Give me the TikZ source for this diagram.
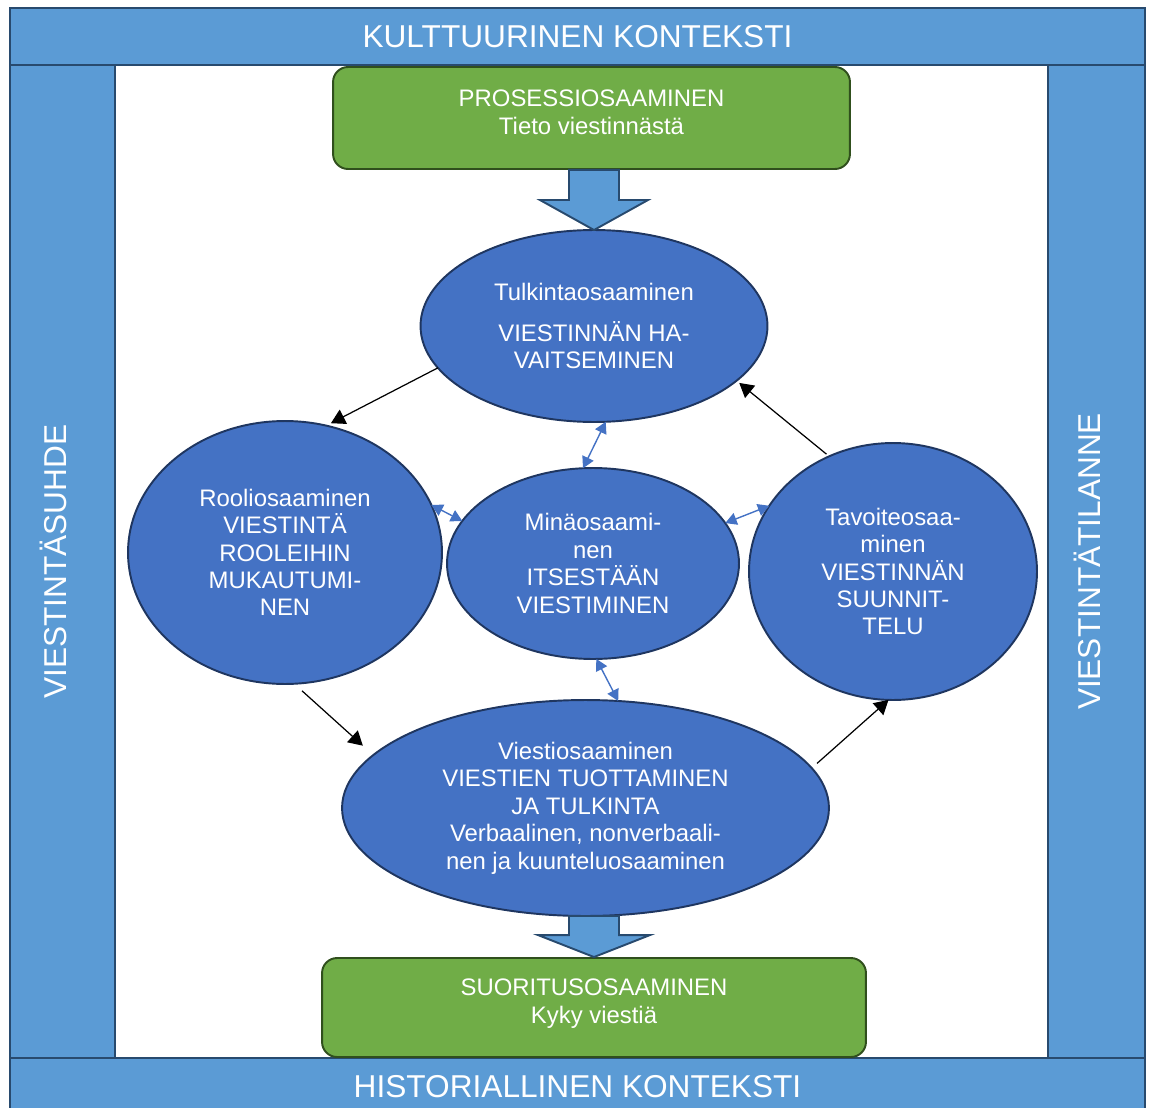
\documentclass[tikz,border=0pt]{standalone}
\usepackage{fontspec}
\setmainfont{Liberation Sans}
\usetikzlibrary{shapes.geometric, arrows.meta, calc}

\definecolor{barblue}{HTML}{5B9BD5}
\definecolor{barline}{HTML}{284A6E}
\definecolor{ellblue}{HTML}{4472C4}
\definecolor{ellline}{HTML}{1F3660}
\definecolor{skillgreen}{HTML}{70AD47}
\definecolor{greenline}{HTML}{304F1D}

\begin{document}
\begin{tikzpicture}[x=0.02cm, y=-0.02cm]
        \tikzstyle{bar} = [rectangle, draw=barline, fill=barblue, line width=1.2pt, text=white, font=\fontsize{18}{21}\selectfont, inner sep=0pt]
        \tikzstyle{sidebar} = [bar, rotate=90, text height=16pt, text depth=11pt]
        \tikzstyle{skill} = [rectangle, rounded corners=0.3cm, draw=greenline, fill=skillgreen, line width=1.1pt, text=white, align=center, font=\fontsize{13.6}{15.9}\selectfont, inner sep=0pt]
        \tikzstyle{area} = [ellipse, draw=ellline, fill=ellblue, line width=1.1pt, text=white, align=center, font=\fontsize{13.6}{15.6}\selectfont, inner sep=0pt, outer sep=0pt]
        \tikzstyle{arrow} = [line width=0.7pt, -{Triangle[length=8pt, width=9pt]}]
        \tikzstyle{twoway} = [line width=0.8pt, draw=ellblue, {Triangle[length=6.5pt, width=7pt]}-{Triangle[length=6.5pt, width=7pt]}]
        \tikzstyle{blockarrow} = [draw=barline, fill=barblue, line width=1.1pt, line join=miter]

        \useasboundingbox (0,0) rectangle (1152,1108);
        \clip (0,0) rectangle (1152,1108);

        % frame
        \node (kult) [bar, minimum width=22.7cm, minimum height=1.14cm] at (577.5,36.5) {KULTTUURINEN KONTEKSTI};
        \node (suhde) [sidebar, minimum width=19.86cm, minimum height=2.1cm] at (62.5,561.5) {VIESTINTÄSUHDE};
        \node (tilanne) [sidebar, minimum width=19.86cm, minimum height=1.94cm] at (1096.5,561.5) {VIESTINTÄTILANNE};
        \node (hist) [bar, minimum width=22.7cm, minimum height=1.16cm] at (577.5,1087) {HISTORIALLINEN KONTEKSTI};

        \node (proc) [skill, minimum width=10.34cm, minimum height=2.04cm] at (591.5,118) {PROSESSIOSAAMINEN\\Tieto viestinnästä\\[-9pt]\mbox{}};
        \node (suor) [skill, minimum width=10.88cm, minimum height=1.98cm] at (594,1007.5) {SUORITUSOSAAMINEN\\Kyky viestiä\\[-9pt]\mbox{}};

        \node (tulk) [area, minimum width=6.94cm, minimum height=3.84cm] at (594,326) {Tulkintaosaaminen\\[8pt]VIESTINNÄN HA-\\VAITSEMINEN};
        \node (rool) [area, minimum width=6.28cm, minimum height=5.26cm] at (285,552.5) {Rooliosaaminen\\VIESTINTÄ\\ROOLEIHIN\\MUKAUTUMI-\\NEN};
        \node (mina) [area, minimum width=5.84cm, minimum height=3.82cm] at (593,563.5) {Minäosaami-\\nen\\ITSESTÄÄN\\VIESTIMINEN};
        \node (tavo) [area, minimum width=5.76cm, minimum height=5.14cm] at (893,571.5) {Tavoiteosaa-\\minen\\VIESTINNÄN\\SUUNNIT-\\TELU};
        \node (viest) [area, minimum width=9.74cm, minimum height=4.32cm] at (585.5,808) {Viestiosaaminen\\VIESTIEN TUOTTAMINEN\\JA TULKINTA\\Verbaalinen, nonverbaali-\\nen ja kuunteluosaaminen};

        % block arrows
        \draw [blockarrow] ($(tulk.north |- proc.south)+(-25,0)$) -- ($(tulk.north)+(-25,-30)$) -- ($(tulk.north)+(-54,-30)$) -- (tulk.north)
            -- ($(tulk.north)+(54,-30)$) -- ($(tulk.north)+(25,-30)$) -- ($(tulk.north |- proc.south)+(25,0)$) -- cycle;
        \draw [blockarrow] ($(suor.north |- viest.south)+(-25,0)$) -- ($(suor.north)+(-25,-22)$) -- ($(suor.north)+(-56,-22)$) -- (suor.north)
            -- ($(suor.north)+(56,-22)$) -- ($(suor.north)+(25,-22)$) -- ($(suor.north |- viest.south)+(25,0)$) -- cycle;

        % cycle
        \draw [arrow, shorten >=3pt] (tulk.195) -- (rool.72);
        \draw [arrow, shorten <=6pt, shorten >=8pt] (rool.274) -- (viest.166);
        \draw [arrow, shorten <=4pt] (viest.10) -- (tavo.268);
        \draw [arrow, shorten <=2pt, shorten >=2pt] (tavo.119) -- (tulk.339);

        % self
        \draw [twoway] (mina.96) -- (tulk.277);
        \draw [twoway] (rool.18) -- (mina.162);
        \draw [twoway] (mina.17) -- (tavo.152);
        \draw [twoway] (mina.272) -- (viest.73);
\end{tikzpicture}
\end{document}
